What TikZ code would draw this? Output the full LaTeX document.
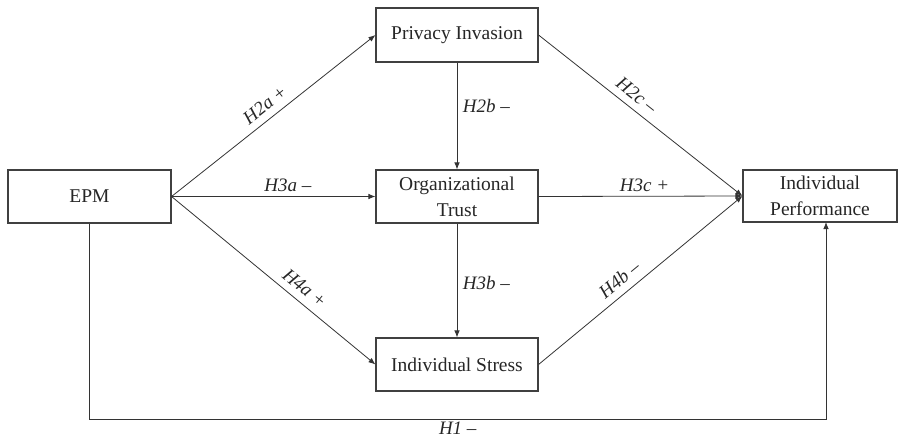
\documentclass[tikz,border=0pt]{standalone}
\usepackage{fontspec}
\setmainfont{Liberation Serif}
\usetikzlibrary{arrows.meta}
\begin{document}
\begin{tikzpicture}[x=1pt,y=-1pt,
  box/.style={draw=black!75,line width=1.1pt,fill=white,inner sep=0pt,align=center,
    font=\fontsize{19.5}{26}\selectfont,text=black!85},
  conn/.style={draw=black!80,line width=0.8pt},
  arr/.style={conn,-{Latex[length=7pt,width=5.5pt]}},
  lab/.style={font=\fontsize{19}{22}\selectfont\itshape,text=black!85,inner sep=4.5pt},
  slab/.style={lab,sloped,above,inner sep=7pt}]
\useasboundingbox (0,0) rectangle (904,440);
\node[box,minimum width=163pt,minimum height=53pt] (epm) at (89.5,196.5) {EPM};
\node[box,minimum width=162pt,minimum height=54pt] (pi) at (457,35) {Privacy Invasion};
\node[box,minimum width=162pt,minimum height=53pt] (ot) at (457,196.5) {Organizational\\Trust};
\node[box,minimum width=162pt,minimum height=53pt] (is) at (457,364.5) {Individual Stress};
\node[box,minimum width=154pt,minimum height=52pt] (ip) at (820,196) {Individual\\Performance};
\coordinate (c1) at (epm.south |- 0,419);
\coordinate (c2) at (826,419);
\coordinate (c3) at (826,222);
\draw[arr] (epm.east) -- node[slab,pos=0.5]{H2a +} (pi.west);
\draw[arr] (epm.east) -- node[lab,pos=0.57,above]{H3a –} (ot.west);
\draw[arr] (epm.east) -- node[slab,pos=0.61]{H4a +} (is.west);
\draw[arr] (pi.south) -- node[lab,pos=0.41,right,xshift=1pt]{H2b –} (ot.north);
\draw[arr] (ot.south) -- node[lab,pos=0.52,right,xshift=1pt]{H3b –} (is.north);
\draw[arr] (pi.east) -- node[slab,pos=0.44]{H2c –} (ip.west);
\draw[arr] (ot.east) -- node[lab,pos=0.52,above]{H3c +} (ip.west);
\draw[arr] (is.east) -- node[slab,pos=0.44]{H4b –} (ip.west);
\draw[arr] (epm.south) -- (c1) -- node[lab,pos=0.5,below,inner sep=3pt]{H1 –} (c2) -- (c3);
\end{tikzpicture}
\end{document}
